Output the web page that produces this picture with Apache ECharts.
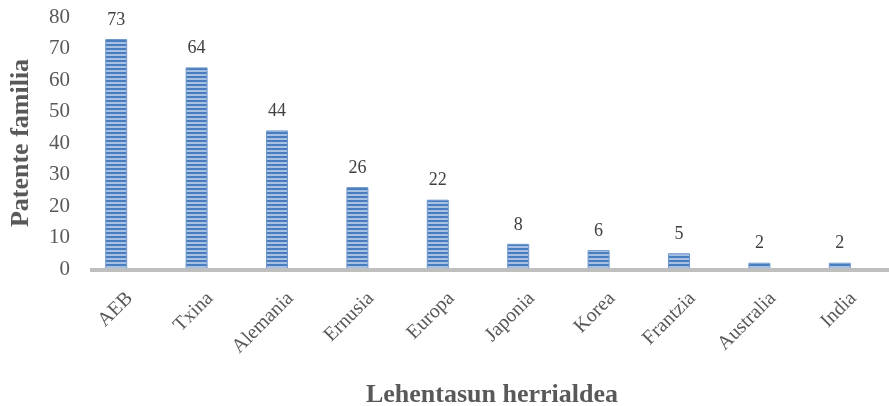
<!DOCTYPE html>
<html>
<head>
<meta charset="utf-8">
<script src="https://cdn.jsdelivr.net/npm/echarts@6/dist/echarts.min.js"></script>
<style>
  html, body { margin: 0; padding: 0; background: #fff; }
  #chart { width: 889px; height: 406px; }
</style>
</head>
<body>
<div id="chart"></div>
<script>
// Patent families by priority country
const countries = ['AEB', 'Txina', 'Alemania', 'Ernusia', 'Europa', 'Japonia', 'Korea', 'Frantzia', 'Australia', 'India'];
const families = [73, 64, 44, 26, 22, 8, 6, 5, 2, 2];
const yTicks = [0, 10, 20, 30, 40, 50, 60, 70, 80];

// Horizontal-striped fill for the bars
function stripePattern() {
  const c = document.createElement('canvas');
  c.width = 4; c.height = 4;
  const ctx = c.getContext('2d');
  ctx.fillStyle = '#a6c1e4';
  ctx.fillRect(0, 0, 4, 4);
  ctx.fillStyle = '#4a7dbd';
  ctx.fillRect(0, 0, 4, 2);
  return c;
}

const serif = '"Liberation Serif", "Times New Roman", serif';
const chart = echarts.init(document.getElementById('chart'), null, { renderer: 'canvas' });

chart.setOption({
  animation: false,
  backgroundColor: '#ffffff',
  grid: { left: 76, top: 17, width: 804, bottom: 137, containLabel: false, outerBoundsMode: 'none' },
  xAxis: {
    type: 'category',
    data: countries,
    name: 'Lehentasun herrialdea',
    nameLocation: 'middle',
    nameGap: 113,
    nameTextStyle: { fontFamily: serif, fontSize: 26, fontWeight: 'bold', color: '#595959', padding: [0, 0, 0, 28] },
    axisLine: { show: false },
    axisTick: { show: false },
    axisLabel: {
      rotate: 45, margin: 13, fontFamily: serif, fontSize: 20, color: '#595959', interval: 0,
      verticalAlign: 'top', padding: [9, 0, 0, 0]
    }
  },
  yAxis: {
    type: 'value',
    min: yTicks[0],
    max: yTicks[yTicks.length - 1],
    interval: 10,
    name: 'Patente familia',
    nameLocation: 'middle',
    nameGap: 42,
    nameTextStyle: { fontFamily: serif, fontSize: 26, fontWeight: 'bold', color: '#595959' },
    axisLine: { show: false },
    axisTick: { show: false },
    splitLine: { show: false },
    axisLabel: { margin: 6, fontFamily: serif, fontSize: 21, color: '#595959' }
  },
  series: [{
    type: 'bar',
    data: families,
    barWidth: 22,
    itemStyle: {
      color: { image: stripePattern(), repeat: 'repeat' },
      borderColor: '#6f97cc',
      borderWidth: 1
    },
    label: {
      show: true,
      position: 'top',
      distance: 10,
      fontFamily: serif,
      fontSize: 18,
      color: '#404040'
    }
  }]
});

// Category baseline drawn across the plot, running to the right edge
const y0 = chart.convertToPixel({ yAxisIndex: 0 }, 0);
chart.setOption({
  graphic: [{
    type: 'rect',
    shape: { x: 90, y: y0 - 1, width: 799, height: 4 },
    style: { fill: '#bfbfbf' },
    z: 10
  }]
});
</script>
</body>
</html>
